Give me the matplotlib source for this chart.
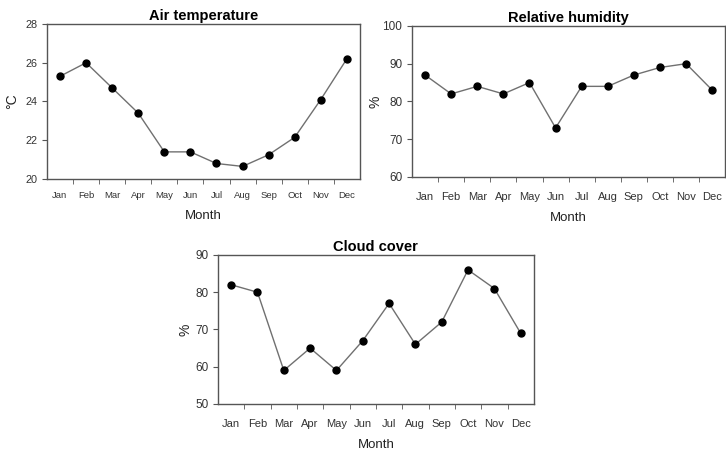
import matplotlib
matplotlib.use("Agg")
import matplotlib.pyplot as plt
import numpy as np

months = ["Jan", "Feb", "Mar", "Apr", "May", "Jun", "Jul", "Aug", "Sep", "Oct", "Nov", "Dec"]
air_temp = [25.3, 26.0, 24.7, 23.4, 21.4, 21.4, 20.8, 20.65, 21.25, 22.15, 24.1, 26.2]
humidity = [87, 82, 84, 82, 85, 73, 84, 84, 87, 89, 90, 83]
cloud = [82, 80, 59, 65, 59, 67, 77, 66, 72, 86, 81, 69]

plt.rcParams['font.family'] = ['Liberation Sans', 'DejaVu Sans']

fig = plt.figure(figsize=(7.26, 4.55), dpi=100)

panels = [
    dict(rect=[0.0647, 0.6066, 0.431, 0.3407], data=air_temp, title="Air temperature",
         ylabel="°C", ylim=(20, 28), yticks=[20, 22, 24, 26, 28],
         xls=6.8, yls=7.8, xpad=9, xlpad=7, ylpad=4),
    dict(rect=[0.5675, 0.611, 0.4315, 0.332], data=humidity, title="Relative humidity",
         ylabel="%", ylim=(60, 100), yticks=[60, 70, 80, 90, 100],
         xls=8, yls=8.5, xpad=11, xlpad=7, ylpad=0),
    dict(rect=[0.3003, 0.1121, 0.435, 0.3275], data=cloud, title="Cloud cover",
         ylabel="%", ylim=(50, 90), yticks=[50, 60, 70, 80, 90],
         xls=8, yls=8.5, xpad=11, xlpad=7, ylpad=1.5),
]

x = np.arange(len(months))
for p in panels:
    ax = fig.add_axes(p["rect"])
    ax.plot(x, p["data"], color="#707070", lw=1.0, marker="o", markersize=5,
            markerfacecolor="black", markeredgecolor="black", zorder=3)
    ax.set_xlim(-0.5, 11.5)
    ax.set_ylim(*p["ylim"])
    ax.set_yticks(p["yticks"])
    ax.set_xticks(x)
    ax.set_xticklabels(months)
    ax.set_xticks(np.arange(0.5, 11.5, 1.0), minor=True)
    ax.tick_params(axis="x", which="major", length=0, pad=p["xpad"], labelsize=p["xls"], labelcolor="#333333")
    ax.tick_params(axis="x", which="minor", length=3.5, direction="out", color="#555555")
    ax.tick_params(axis="y", length=3.5, direction="out", labelsize=p["yls"], labelcolor="#333333", color="#555555")
    for s in ax.spines.values():
        s.set_color("#555555")
        s.set_linewidth(1.0)
    ax.set_title(p["title"], fontsize=10.5, fontweight="bold", pad=3)
    ax.set_xlabel("Month", fontsize=9.5, color="#222222", labelpad=p["xlpad"])
    ax.set_ylabel(p["ylabel"], fontsize=10, color="#222222", labelpad=p["ylpad"])

fig.savefig("out.png", dpi=100)
